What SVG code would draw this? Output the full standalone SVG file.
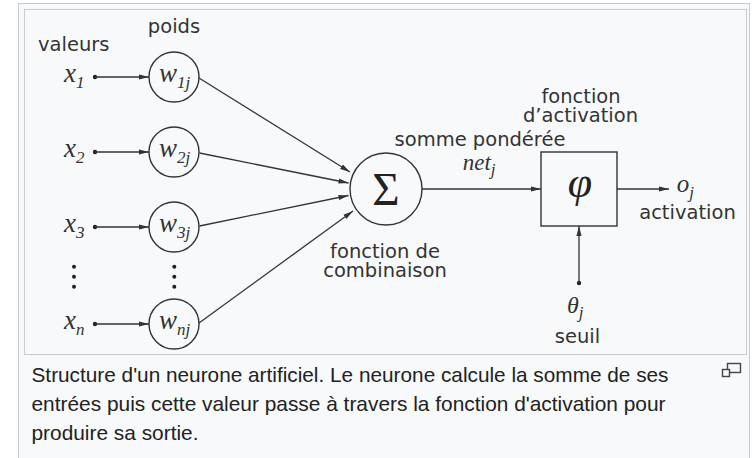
<svg xmlns="http://www.w3.org/2000/svg" width="752" height="458" viewBox="0 0 752 458">
<style>
.frame{fill:#f8f9fa;stroke:#c8ccd1;stroke-width:1}
.node{fill:none;stroke:#333;stroke-width:1.4}
.conn{fill:none;stroke:#333;stroke-width:1.3}
.dot{fill:#222}
.s{font-family:"DejaVu Sans",sans-serif;font-size:19.5px;fill:#333}
.m{font-family:"Liberation Serif","Times New Roman",serif;font-style:italic;font-size:27px;fill:#333}
.sub{font-size:17px}
.up{font-family:"Liberation Serif","Times New Roman",serif;fill:#222}
.cap{font-family:"Liberation Sans",Arial,sans-serif;font-size:20.6px;fill:#222}
</style>
<defs>
<marker id="ah" markerUnits="userSpaceOnUse" markerWidth="10" markerHeight="6" refX="10" refY="3" orient="auto">
<path d="M0,0.4 L10,3 L0,5.6 z" fill="#333"/>
</marker>
</defs>
<rect x="0" y="0" width="752" height="458" fill="#fff"/>
<rect class="frame" x="18.5" y="3.5" width="731" height="470"/>
<rect class="frame" x="24.5" y="9.5" width="722" height="345"/>

<g id="labels">
<text class="s" x="38" y="51">valeurs</text>
<text class="s" x="174" y="32.7" text-anchor="middle">poids</text>
</g>

<g id="x1"><text class="m" x="64" y="82">x<tspan class="sub" dy="6">1</tspan></text><circle class="dot" cx="95" cy="77" r="2.2"/></g>
<g id="x2"><text class="m" x="64" y="157">x<tspan class="sub" dy="6">2</tspan></text><circle class="dot" cx="95" cy="152" r="2.2"/></g>
<g id="x3"><text class="m" x="64" y="232">x<tspan class="sub" dy="6">3</tspan></text><circle class="dot" cx="95" cy="227" r="2.2"/></g>
<g id="xn"><text class="m" x="64" y="329">x<tspan class="sub" dy="6">n</tspan></text><circle class="dot" cx="95" cy="324" r="2.2"/></g>
<g id="vdots-x"><circle class="dot" cx="74" cy="266.7" r="2"/><circle class="dot" cx="74" cy="276.7" r="2"/><circle class="dot" cx="74" cy="286.7" r="2"/></g>
<g id="vdots-w"><circle class="dot" cx="174.3" cy="266.7" r="2"/><circle class="dot" cx="174.3" cy="276.7" r="2"/><circle class="dot" cx="174.3" cy="286.7" r="2"/></g>

<g id="w1"><circle class="node" cx="174" cy="77" r="25"/><text class="m" x="174.5" y="82" text-anchor="middle">w<tspan class="sub" dy="6">1j</tspan></text></g>
<g id="w2"><circle class="node" cx="174" cy="152" r="25"/><text class="m" x="174.5" y="157" text-anchor="middle">w<tspan class="sub" dy="6">2j</tspan></text></g>
<g id="w3"><circle class="node" cx="174" cy="227" r="25"/><text class="m" x="174.5" y="232" text-anchor="middle">w<tspan class="sub" dy="6">3j</tspan></text></g>
<g id="wn"><circle class="node" cx="174" cy="324" r="25"/><text class="m" x="174.5" y="329" text-anchor="middle">w<tspan class="sub" dy="6">nj</tspan></text></g>

<g id="sum"><circle class="node" cx="386" cy="189" r="36"/><text class="up" x="386" y="205" font-size="47" text-anchor="middle">Σ</text></g>
<g id="sum-labels">
<text class="s" x="480" y="145.5" text-anchor="middle">somme pondérée</text>
<text class="m" x="462.7" y="170" style="font-size:23px">net<tspan class="sub" dy="5">j</tspan></text>
<text class="s" x="385" y="258.3" text-anchor="middle">fonction de</text>
<text class="s" x="385" y="276.7" text-anchor="middle">combinaison</text>
</g>

<g id="act"><rect class="node" x="541" y="152" width="76" height="74"/><text class="m" x="580" y="197" style="font-size:44px;fill:#222" text-anchor="middle">φ</text></g>
<g id="act-labels">
<text class="s" x="581" y="102.7" text-anchor="middle">fonction</text>
<text class="s" x="580.5" y="121.7" text-anchor="middle">d’activation</text>
</g>

<g id="out"><text class="m" x="676.7" y="191.7" style="font-size:25px">o<tspan class="sub" dy="6">j</tspan></text><text class="s" x="687.5" y="219.3" text-anchor="middle">activation</text></g>

<g id="theta"><circle class="dot" cx="579" cy="283" r="2.2"/><text class="m" x="567" y="313" style="font-size:24px">θ<tspan class="sub" dy="5">j</tspan></text><text class="s" x="577.5" y="343" text-anchor="middle">seuil</text></g>

<g id="connectors">
<line class="conn" x1="95" y1="77" x2="149" y2="77" marker-end="url(#ah)"/>
<line class="conn" x1="95" y1="152" x2="149" y2="152" marker-end="url(#ah)"/>
<line class="conn" x1="95" y1="227" x2="149" y2="227" marker-end="url(#ah)"/>
<line class="conn" x1="95" y1="324" x2="149" y2="324" marker-end="url(#ah)"/>
<line class="conn" x1="199" y1="78" x2="350" y2="172" marker-end="url(#ah)"/>
<line class="conn" x1="199.5" y1="153" x2="348.5" y2="183" marker-end="url(#ah)"/>
<line class="conn" x1="199.5" y1="226" x2="348.5" y2="195.5" marker-end="url(#ah)"/>
<line class="conn" x1="199" y1="323" x2="353" y2="211" marker-end="url(#ah)"/>
<line class="conn" x1="422" y1="189" x2="541" y2="189" marker-end="url(#ah)"/>
<line class="conn" x1="617" y1="189" x2="669" y2="189" marker-end="url(#ah)"/>
<line class="conn" x1="579" y1="283" x2="579" y2="226" marker-end="url(#ah)"/>
</g>

<g id="caption">
<text class="cap" x="31.5" y="382" textLength="637" lengthAdjust="spacingAndGlyphs">Structure d'un neurone artificiel. Le neurone calcule la somme de ses</text>
<text class="cap" x="31.5" y="411" textLength="634" lengthAdjust="spacingAndGlyphs">entrées puis cette valeur passe à travers la fonction d'activation pour</text>
<text class="cap" x="31.5" y="440" textLength="167" lengthAdjust="spacingAndGlyphs">produire sa sortie.</text>
</g>
<g id="magnify" fill="#f8f9fa" stroke="#444" stroke-width="1.4">
<rect x="727.5" y="363.5" width="13" height="9"/>
<rect x="722.5" y="369.5" width="7" height="7"/>
</g>
</svg>
